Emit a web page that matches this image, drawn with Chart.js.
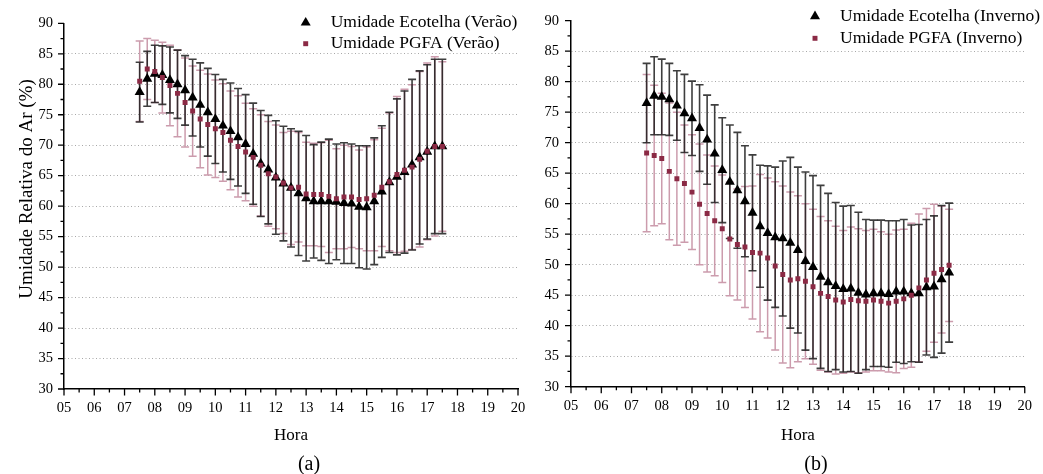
<!DOCTYPE html>
<html>
<head>
<meta charset="utf-8">
<script src="https://cdn.jsdelivr.net/npm/chart.js@4.4.1/dist/chart.umd.min.js"></script>
<style>
  body { margin: 0; background: #fff; width: 1043px; height: 474px; overflow: hidden; position: relative; }
  canvas { position: absolute; top: 0; }
  #chartA { left: 0; }
  #chartB { left: 520px; }
  .panel { position: absolute; top: 452px; font: 20px "Liberation Serif", serif; line-height: 22px; transform: translateX(-50%); color: #000; }
</style>
</head>
<body>
<canvas id="chartA" width="540" height="474"></canvas>
<canvas id="chartB" width="523" height="474"></canvas>
<div class="panel" style="left:309px">(a)</div>
<div class="panel" style="left:816px">(b)</div>
<script>
// hora do dia (intervalos de 15 min)
const hours = [7.5, 7.75, 8, 8.25, 8.5, 8.75, 9, 9.25, 9.5, 9.75, 10, 10.25, 10.5, 10.75,
  11, 11.25, 11.5, 11.75, 12, 12.25, 12.5, 12.75, 13, 13.25, 13.5, 13.75, 14, 14.25,
  14.5, 14.75, 15, 15.25, 15.5, 15.75, 16, 16.25, 16.5, 16.75, 17, 17.25, 17.5];

// (a) verao
const ecoVerao = [78.7, 80.9, 81.7, 81.5, 80.7, 80.0, 79.0, 77.8, 76.6, 75.4, 74.3, 73.2, 72.3, 71.3,
  70.2, 68.6, 67.0, 66.0, 64.7, 63.7, 63.0, 62.1, 61.3, 60.8, 60.8, 60.8, 60.7, 60.5,
  60.4, 59.9, 59.8, 60.8, 62.4, 63.9, 64.8, 65.6, 66.8, 68.0, 68.9, 69.8, 69.8];
const ecoVeraoSd = [4.9, 4.5, 4.7, 4.8, 5.4, 5.6, 5.7, 6.3, 6.9, 7.2, 7.3, 7.6, 7.9, 8.0,
  8.1, 8.3, 8.7, 8.9, 9.3, 9.4, 9.7, 10.2, 10.3, 9.3, 9.7, 10.2, 9.5, 9.9,
  9.8, 10.0, 10.1, 10.4, 10.8, 11.5, 12.8, 13.3, 14.0, 14.2, 14.3, 14.3, 14.3];
const pgfaVerao = [80.5, 82.5, 82.1, 81.1, 79.8, 78.5, 77.0, 75.6, 74.3, 73.4, 72.7, 72.1, 70.8, 69.8,
  68.9, 68.0, 66.7, 65.3, 64.8, 63.8, 63.0, 63.1, 62.0, 61.9, 61.9, 61.6, 61.2, 61.5,
  61.5, 61.1, 61.2, 61.8, 63.1, 64.0, 65.2, 65.9, 66.4, 67.7, 69.0, 69.8, 69.8];
const pgfaVeraoSd = [6.6, 5.0, 5.1, 5.8, 6.6, 7.1, 7.3, 7.4, 8.0, 8.3, 8.0, 8.0, 8.1, 8.3,
  8.0, 8.0, 8.3, 8.6, 8.5, 8.3, 9.3, 9.0, 8.5, 8.4, 8.5, 9.2, 8.2, 8.5,
  8.3, 8.1, 8.5, 9.1, 9.7, 11.3, 12.8, 13.3, 13.5, 14.4, 14.5, 14.7, 13.9];

// (b) inverno
const ecoInverno = [76.5, 77.7, 77.5, 77.1, 76.1, 74.8, 74.0, 72.4, 70.5, 68.2, 65.5, 63.6, 62.2, 60.4,
  58.5, 56.3, 55.2, 54.5, 54.3, 53.6, 52.4, 50.6, 49.6, 48.0, 47.1, 46.5, 46.0, 46.1,
  45.4, 45.1, 45.3, 45.3, 45.2, 45.6, 45.6, 45.3, 45.3, 46.3, 46.4, 47.6, 48.7];
const ecoInvernoSd = [6.5, 6.4, 6.2, 5.9, 5.7, 6.4, 6.1, 7.1, 7.3, 8.0, 8.6, 9.3, 9.5, 9.1,
  9.5, 10.0, 11.0, 11.5, 12.7, 14.0, 13.6, 14.6, 15.0, 15.0, 14.6, 13.7, 13.6, 13.6,
  13.2, 12.3, 12.0, 12.0, 12.0, 11.6, 11.8, 11.2, 11.3, 11.1, 11.6, 12.1, 11.4];
const pgfaInverno = [68.3, 67.9, 67.4, 65.3, 64.1, 63.3, 61.9, 59.9, 58.4, 57.2, 55.9, 54.2, 53.3, 52.9,
  52.0, 51.9, 51.1, 49.8, 48.4, 47.5, 47.7, 47.3, 46.4, 45.3, 44.8, 44.2, 43.9, 44.3,
  44.1, 44.0, 44.2, 44.0, 43.7, 44.0, 44.4, 45.0, 46.2, 47.5, 48.6, 49.2, 49.9];
const pgfaInvernoSd = [12.9, 11.5, 10.7, 11.2, 10.9, 9.6, 9.4, 9.9, 9.6, 9.0, 8.8, 9.3, 9.1, 9.9,
  10.9, 12.9, 13.1, 13.8, 14.5, 14.4, 13.6, 12.7, 12.7, 12.6, 12.4, 12.1, 11.7, 11.9,
  11.8, 11.6, 11.6, 11.4, 11.3, 11.7, 11.4, 11.8, 12.1, 11.7, 11.3, 10.4, 9.2];

const FONT = "'Liberation Serif', 'Times New Roman', serif";

// error bars, tick marks, legend and y title
const decor = {
  id: 'decor',
  beforeDatasetsDraw(chart) {
    const { ctx, scales: { x, y } } = chart;
    // pink (PGFA) first, black on top
    [1, 0].forEach(di => {
      const ds = chart.data.datasets[di];
      ctx.save();
      ctx.strokeStyle = ds.barColor;
      ctx.lineWidth = ds.barWidth;
      ds.data.forEach((p, i) => {
        const px = x.getPixelForValue(p.x);
        const top = y.getPixelForValue(p.y + ds.sd[i]);
        const bot = y.getPixelForValue(p.y - ds.sd[i]);
        ctx.beginPath();
        ctx.moveTo(px, top); ctx.lineTo(px, bot);
        ctx.moveTo(px - 4, top); ctx.lineTo(px + 4, top);
        ctx.moveTo(px - 4, bot); ctx.lineTo(px + 4, bot);
        ctx.stroke();
      });
      ctx.restore();
    });
  },
  afterDraw(chart, args, opts) {
    const { ctx, chartArea, scales: { x, y } } = chart;
    ctx.save();
    ctx.strokeStyle = '#000';
    ctx.lineWidth = 1.3;
    ctx.beginPath();
    y.ticks.forEach(t => {
      const py = y.getPixelForValue(t.value);
      const len = t.value % 5 === 0 ? 6 : 3.5;
      ctx.moveTo(chartArea.left - len, py); ctx.lineTo(chartArea.left, py);
    });
    x.ticks.forEach(t => {
      const px = x.getPixelForValue(t.value);
      const len = Number.isInteger(t.value) ? 6.5 : 3.5;
      ctx.moveTo(px, chartArea.bottom); ctx.lineTo(px, chartArea.bottom + len);
    });
    ctx.stroke();

    // legend
    ctx.font = '17.5px ' + FONT;
    ctx.textBaseline = 'middle';
    ctx.textAlign = 'left';
    chart.data.datasets.forEach((ds, i) => {
      const ry = opts.legendY + i * opts.legendRow;
      ctx.fillStyle = ds.backgroundColor;
      ctx.strokeStyle = ds.borderColor;
      Chart.helpers.drawPoint(ctx, { pointStyle: ds.pointStyle, radius: ds.pointRadius, rotation: 0, borderWidth: 0 }, opts.legendX, ry);
      ctx.fillStyle = '#000';
      ctx.fillText(ds.label, opts.legendX + 25, ry);
    });

    if (opts.yTitle) {
      ctx.translate(opts.yTitleX, opts.yTitleY);
      ctx.rotate(-Math.PI / 2);
      ctx.font = '19px ' + FONT;
      ctx.textAlign = 'center';
      ctx.fillStyle = '#000';
      ctx.fillText(opts.yTitle, 0, 0);
    }
    ctx.restore();
  }
};

function makeChart(id, c) {
  return new Chart(document.getElementById(id), {
    type: 'scatter',
    data: {
      datasets: [
        { label: c.ecoLabel, data: hours.map((h, i) => ({ x: h, y: c.eco[i] })), sd: c.ecoSd,
          pointStyle: 'triangle', pointRadius: 5.8, backgroundColor: '#000', borderColor: '#000',
          borderWidth: 0, order: 2, barColor: 'rgba(20,20,20,0.82)', barWidth: 1.6 },
        { label: c.pgLabel, data: hours.map((h, i) => ({ x: h, y: c.pg[i] })), sd: c.pgSd,
          pointStyle: 'rect', pointRadius: 3.5, backgroundColor: '#8b2a45', borderColor: '#8b2a45',
          borderWidth: 0, order: 1, barColor: '#cc9cad', barWidth: 1.5 }
      ]
    },
    options: {
      responsive: false,
      animation: false,
      devicePixelRatio: 1,
      layout: { padding: { left: 0, top: c.top, right: c.right, bottom: 0 } },
      plugins: {
        legend: { display: false },
        tooltip: { enabled: false },
        decor: { legendX: c.legendX, legendY: c.legendY, legendRow: c.legendRow,
                 yTitle: c.yTitle, yTitleX: 26.8, yTitleY: 189 }
      },
      scales: {
        x: {
          type: 'linear', min: 5, max: 20,
          afterFit: s => { s.height = c.xHeight; },
          grid: { display: false, drawTicks: false },
          border: { color: '#000', width: 1.5 },
          ticks: { stepSize: 0.5, autoSkip: false, maxRotation: 0, padding: c.xPad, color: '#000',
                   font: { family: FONT, size: 14.5 },
                   callback: v => Number.isInteger(v) ? String(v).padStart(2, '0') : '' },
          title: { display: true, text: 'Hora', color: '#000', font: { family: FONT, size: 17 },
                   padding: { top: 0, bottom: 28.5 } }
        },
        y: {
          min: 30, max: 90,
          afterFit: s => { s.width = c.yWidth; },
          grid: { drawTicks: false, lineWidth: 1,
                  color: ctx => (ctx.tick && ctx.tick.value % 5 === 0 && ctx.tick.value > 30 && ctx.tick.value < 90) ? '#a8a8a8' : 'rgba(0,0,0,0)' },
          border: { color: '#000', width: 1.5, dash: [1, 2.5] },
          ticks: { stepSize: 2.5, autoSkip: false, padding: c.yPad, color: '#000',
                   font: { family: FONT, size: 14.5 },
                   callback: v => v % 5 === 0 ? String(v) : '' }
        }
      }
    },
    plugins: [decor]
  });
}

makeChart('chartA', {
  eco: ecoVerao, ecoSd: ecoVeraoSd, pg: pgfaVerao, pgSd: pgfaVeraoSd,
  ecoLabel: 'Umidade Ecotelha (Verão)', pgLabel: 'Umidade PGFA (Verão)',
  top: 23.3, right: 22, xHeight: 85, yWidth: 64, xPad: 10, yPad: 11,
  legendX: 305.7, legendY: 22.7, legendRow: 21,
  yTitle: 'Umidade Relativa do Ar (%)'
});

makeChart('chartB', {
  eco: ecoInverno, ecoSd: ecoInvernoSd, pg: pgfaInverno, pgSd: pgfaInvernoSd,
  ecoLabel: 'Umidade Ecotelha (Inverno)', pgLabel: 'Umidade PGFA (Inverno)',
  top: 17.3, right: 14, xHeight: 87.3, yWidth: 51, xPad: 11, yPad: 12,
  legendX: 295, legendY: 16.3, legendRow: 22,
  yTitle: null
});
</script>
</body>
</html>
